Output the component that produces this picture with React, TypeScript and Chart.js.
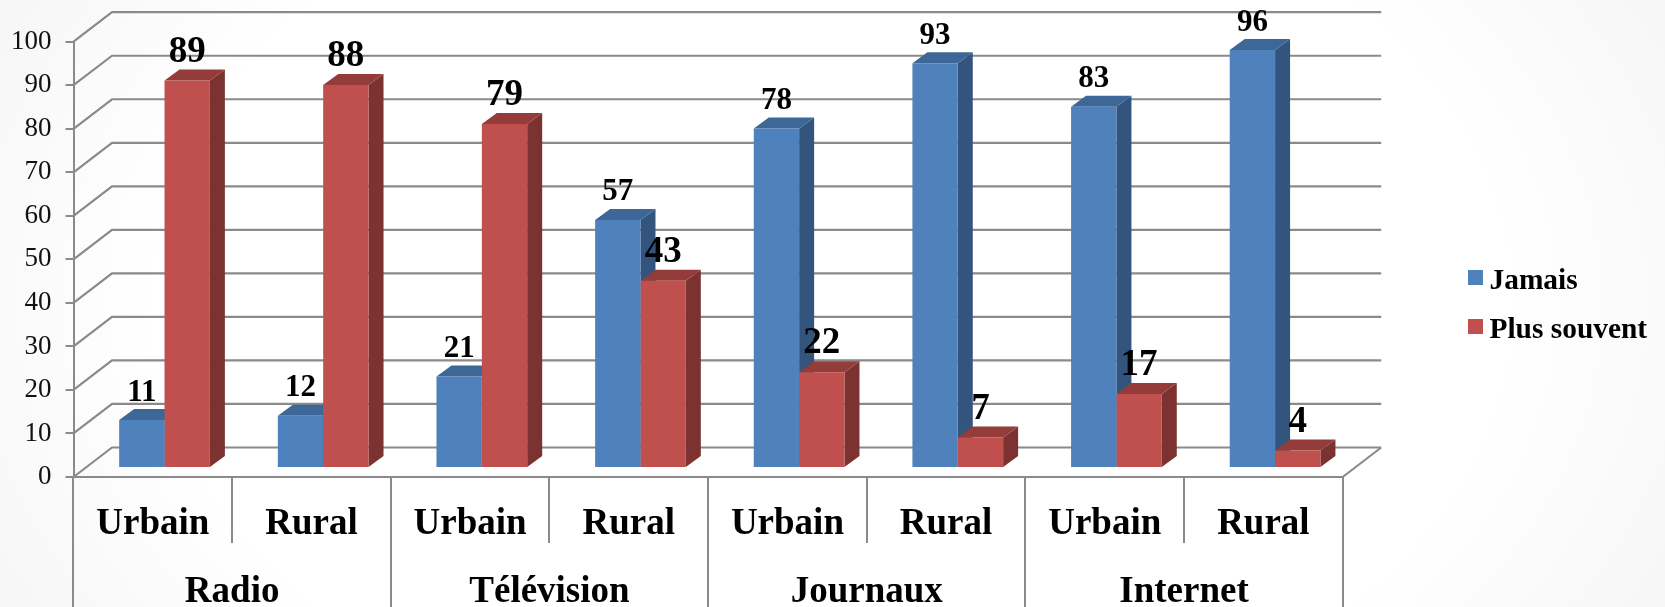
import React, { useEffect, useRef } from "react";
import { Chart, registerables } from "chart.js";

Chart.register(...registerables);

const subCategories = ["Urbain", "Rural", "Urbain", "Rural", "Urbain", "Rural", "Urbain", "Rural"];
const groups = ["Radio", "Télévision", "Journaux", "Internet"];
const jamais = [11, 12, 21, 57, 78, 93, 83, 96];
const plusSouvent = [89, 88, 79, 43, 22, 7, 17, 4];
const seriesNames = ["Jamais", "Plus souvent"];
const yTicks = { min: 0, max: 100, step: 10 };

const FONT = '"Liberation Serif"';
const GRID = "#8a8a8a";
const FRONT = ["#4F81BD", "#C0504D"];
const SIDE = ["#33547D", "#7B3230"];
const TOP = ["#3D6797", "#943C3A"];
const LABEL_SIZE = [31, 37];
const LABEL_GAP = [27.5, 28.5];
const WALL = { dx: 38.5, dy: 29.5 };
const BAR_SHIFT = { dx: 11.7, dy: 9 };
const BAR_DEPTH = { dx: 15, dy: 11 };

const poly = (ctx: CanvasRenderingContext2D, pts: number[][], fill: string) => {
  ctx.beginPath();
  pts.forEach((p, i) => (i ? ctx.lineTo(p[0], p[1]) : ctx.moveTo(p[0], p[1])));
  ctx.closePath();
  ctx.fillStyle = fill;
  ctx.fill();
};

const threeD = {
  id: "threeD",
  beforeDatasetsDraw(chart: any) {
    const { ctx } = chart;
    const y = chart.scales.y;
    const area = chart.chartArea;
    ctx.save();
    ctx.strokeStyle = GRID;
    ctx.lineWidth = 2.2;
    y.ticks.forEach((t: any) => {
      const py = y.getPixelForValue(t.value);
      ctx.beginPath();
      ctx.moveTo(area.left, py);
      ctx.lineTo(area.left + WALL.dx, py - WALL.dy);
      ctx.lineTo(area.right + WALL.dx, py - WALL.dy);
      ctx.stroke();
    });
    const y0 = y.getPixelForValue(0);
    ctx.beginPath();
    ctx.moveTo(area.right, y0);
    ctx.lineTo(area.right + WALL.dx, y0 - WALL.dy);
    ctx.stroke();

    ctx.translate(BAR_SHIFT.dx, -BAR_SHIFT.dy);
    [0, 1].forEach((d) => {
      chart.getDatasetMeta(d).data.forEach((bar: any) => {
        const l = bar.x - bar.width / 2;
        const r = bar.x + bar.width / 2;
        const { dx, dy } = BAR_DEPTH;
        poly(ctx, [[r, bar.y], [r + dx, bar.y - dy], [r + dx, bar.base - dy], [r, bar.base]], SIDE[d]);
        poly(ctx, [[l, bar.y], [l + dx, bar.y - dy], [r + dx, bar.y - dy], [r, bar.y]], TOP[d]);
      });
    });
    ctx.restore();
  },
  beforeDatasetDraw(chart: any) {
    chart.ctx.save();
    chart.ctx.translate(BAR_SHIFT.dx, -BAR_SHIFT.dy);
  },
  afterDatasetDraw(chart: any) {
    chart.ctx.restore();
  },
  afterDatasetsDraw(chart: any) {
    const { ctx } = chart;
    ctx.save();
    ctx.translate(BAR_SHIFT.dx, -BAR_SHIFT.dy);
    ctx.fillStyle = "#000";
    ctx.textAlign = "center";
    ctx.textBaseline = "middle";
    [0, 1].forEach((d) => {
      ctx.font = `bold ${LABEL_SIZE[d]}px ${FONT}`;
      chart.getDatasetMeta(d).data.forEach((bar: any, i: number) => {
        ctx.fillText(String(chart.data.datasets[d].data[i]), bar.x, bar.y - LABEL_GAP[d]);
      });
    });
    ctx.restore();

    ctx.save();
    ctx.font = `bold 29.4px ${FONT}`;
    ctx.textBaseline = "alphabetic";
    ctx.textAlign = "left";
    chart.data.datasets.forEach((ds: any, i: number) => {
      ctx.fillStyle = ds.backgroundColor;
      ctx.fillRect(1468, 270 + i * 49, 15, 15);
      ctx.fillStyle = "#000";
      ctx.fillText(ds.label, 1489.5, 289 + i * 48.5);
    });
    ctx.restore();
  },
};

export default function App() {
  const ref = useRef<HTMLCanvasElement>(null);
  useEffect(() => {
    document.body.style.margin = "0";
    const chart = new Chart(ref.current as HTMLCanvasElement, {
      type: "bar",
      data: {
        labels: subCategories,
        datasets: [
          { label: seriesNames[0], data: jamais, backgroundColor: FRONT[0], categoryPercentage: 0.5717, barPercentage: 1, xAxisID: "x", yAxisID: "y" },
          { label: seriesNames[1], data: plusSouvent, backgroundColor: FRONT[1], categoryPercentage: 0.5717, barPercentage: 1, xAxisID: "x", yAxisID: "y" },
        ],
      },
      options: {
        responsive: false,
        animation: false,
        layout: { padding: { left: 0, top: 41.7, right: 322.3, bottom: 0 } },
        plugins: { legend: { display: false }, tooltip: { enabled: false } },
        scales: {
          x: {
            type: "category",
            position: "bottom",
            offset: true,
            weight: 1,
            afterFit: (s: any) => { s.height = 66; },
            grid: { offset: true, drawOnChartArea: false, drawTicks: true, tickLength: 66, color: GRID, lineWidth: 2, tickColor: GRID, tickWidth: 2 },
            border: { display: true, color: GRID, width: 2 },
            ticks: { font: { family: FONT, size: 37, weight: "bold" }, color: "#000", padding: -41, autoSkip: false, maxRotation: 0, minRotation: 0 },
          },
          x2: {
            type: "category",
            labels: groups,
            position: "bottom",
            offset: true,
            weight: 2,
            afterFit: (s: any) => { s.height = 64; },
            grid: { offset: true, drawOnChartArea: false, drawTicks: true, tickLength: 64, color: GRID, lineWidth: 2, tickColor: GRID, tickWidth: 2 },
            border: { display: false },
            ticks: { font: { family: FONT, size: 37, weight: "bold" }, color: "#000", padding: -37, autoSkip: false, maxRotation: 0, minRotation: 0 },
          },
          y: {
            type: "linear",
            min: yTicks.min,
            max: yTicks.max,
            afterFit: (s: any) => { s.width = 73.5; },
            grid: { drawOnChartArea: false, drawTicks: true, tickLength: 8, color: GRID, lineWidth: 2, tickColor: GRID, tickWidth: 2 },
            border: { display: true, color: GRID, width: 2 },
            ticks: { stepSize: yTicks.step, font: { family: FONT, size: 27 }, color: "#111", padding: 14 },
          },
        },
      } as any,
      plugins: [threeD],
    });
    return () => chart.destroy();
  }, []);
  return (
    <div style={{ width: 1665, height: 607, overflow: "hidden", background: "radial-gradient(ellipse 900px 620px at 50% 50%, #ffffff 75%, #f3f3f3 115%)" }}>
      <canvas ref={ref} width={1665} height={607} style={{ display: "block" }} />
    </div>
  );
}
